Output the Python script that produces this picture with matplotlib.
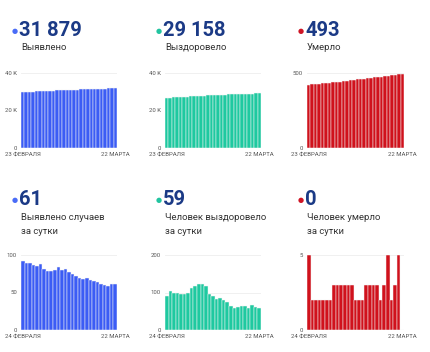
import matplotlib
matplotlib.use("Agg")
import matplotlib.pyplot as plt

plt.rcParams['font.family'] = ['Roboto', 'DejaVu Sans']

# cumulative, 23 Feb - 22 Mar
cases_total = [29852, 29944, 30033, 30122, 30209, 30294, 30382, 30463, 30542, 30621,
               30701, 30785, 30865, 30947, 31025, 31100, 31172, 31242, 31310, 31380,
               31447, 31512, 31576, 31638, 31698, 31757, 31818, 31879]
recovered_total = [26813, 26903, 27008, 27106, 27206, 27303, 27398, 27498, 27610, 27728,
                   27851, 27973, 28090, 28185, 28275, 28357, 28442, 28522, 28598, 28663,
                   28721, 28783, 28848, 28911, 28971, 29037, 29099, 29158]
deaths_total = [420, 425, 427, 429, 431, 433, 435, 437, 440, 443, 446, 449, 452, 455,
                457, 459, 461, 464, 467, 470, 473, 475, 478, 483, 485, 488, 493, 493]

# daily, 24 Feb - 22 Mar
cases_daily = [92, 89, 89, 87, 85, 88, 81, 79, 79, 80, 84, 80, 82, 78, 75, 72, 70, 68,
               70, 67, 65, 64, 62, 60, 59, 61, 61]
recovered_daily = [90, 105, 98, 100, 97, 95, 100, 112, 118, 123, 122, 117, 95, 90, 82,
                   85, 80, 76, 65, 58, 62, 65, 63, 60, 66, 62, 59]
deaths_daily = [5, 2, 2, 2, 2, 2, 2, 3, 3, 3, 3, 3, 3, 2, 2, 2, 3, 3, 3, 3, 2, 3, 5, 2,
                3, 5, 0]

headline = ["31 879", "29 158", "493", "61", "59", "0"]
captions = [["Выявлено"], ["Выздоровело"], ["Умерло"],
            ["Выявлено случаев", "за сутки"], ["Человек выздоровело", "за сутки"],
            ["Человек умерло", "за сутки"]]
yticks = [[0, 20000, 40000], [0, 20000, 40000], [0, 500],
          [0, 50, 100], [0, 100, 200], [0, 5]]
ytick_labels = [["0", "20 K", "40 K"], ["0", "20 K", "40 K"], ["0", "500"],
                ["0", "50", "100"], ["0", "100", "200"], ["0", "5"]]
date_labels = [["23 ФЕВРАЛЯ", "22 МАРТА"]] * 3 + [["24 ФЕВРАЛЯ", "22 МАРТА"]] * 3
series = [cases_total, recovered_total, deaths_total,
          cases_daily, recovered_daily, deaths_daily]

bar_colors = ["#3b5cf5", "#1ec9a0", "#d0111c"] * 2
dot_colors = ["#4a6cf7", "#22c4a0", "#cf1525"] * 2
navy = "#1b3a86"

W, H = 430, 352
fig = plt.figure(figsize=(W / 100, H / 100), dpi=100)

col_x = [21, 165, 307]       # left edge of plot, px
col_w = [96, 96, 97]
row_axes_bottom = [148, 330]  # px from top
row_num_base = [36, 205]
row_cap_y = [48, 217]

for i, vals in enumerate(series):
    r, c = divmod(i, 3)
    x0 = col_x[c]
    ax = fig.add_axes([x0 / W, 1 - row_axes_bottom[r] / H, col_w[c] / W, 75 / H])
    xs = list(range(len(vals)))
    ax.bar(xs, vals, width=1.0, color=bar_colors[i], edgecolor="#f4f4f4",
           linewidth=0.35, zorder=2)
    ax.set_xlim(-0.5, len(vals) - 0.5)
    ax.set_ylim(0, yticks[i][-1])
    ax.set_yticks(yticks[i])
    ax.set_yticklabels(ytick_labels[i])
    ax.set_xticks([0, len(vals) - 1])
    ax.set_xticklabels(date_labels[i])
    ax.tick_params(length=0, labelsize=4.3, labelcolor="#555555", pad=3)
    for s in ax.spines.values():
        s.set_visible(False)
    ax.grid(axis="y", color="#eeeeee", linewidth=0.6, zorder=0)

    # headline number with coloured dot
    fig.text((x0 - 9) / W, 1 - (row_num_base[r] - 5) / H, "●", color=dot_colors[i],
             fontsize=5, ha="left", va="center")
    fig.text((x0 - 2) / W, 1 - row_num_base[r] / H, headline[i], color=navy,
             fontsize=14.5, fontweight="bold", ha="left", va="baseline")
    for k, line in enumerate(captions[i]):
        fig.text(x0 / W, 1 - (row_cap_y[r] + 15 * k) / H, line, color="#333333",
                 fontsize=6.8, ha="left", va="center")

fig.savefig("out.png", dpi=100, facecolor="white")
